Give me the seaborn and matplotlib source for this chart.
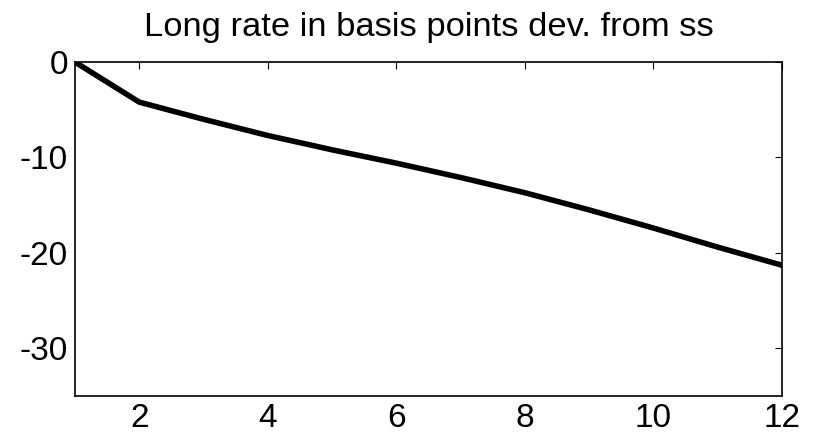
import matplotlib
matplotlib.use("Agg")
import matplotlib.pyplot as plt
import seaborn as sns
import pandas as pd

periods = [1, 2, 3, 4, 5, 6, 7, 8, 9, 10, 11, 12]
long_rate = [0.0, -4.2, -6.0, -7.7, -9.2, -10.6, -12.1, -13.7, -15.5, -17.4, -19.4, -21.3]
x_ticks = [2, 4, 6, 8, 10, 12]
y_ticks = [0, -10, -20, -30]
title = "Long rate in basis points dev. from ss"

sns.set_style("white")
plt.rcParams['font.family'] = ['Liberation Sans', 'DejaVu Sans']
plt.rcParams['axes.unicode_minus'] = False

df = pd.DataFrame({"period": periods, "value": long_rate})

fig = plt.figure(figsize=(8.15, 4.37), dpi=100)
ax = fig.add_axes([0.092, 0.094, 0.8675, 0.764])
sns.lineplot(data=df, x="period", y="value", ax=ax, color="black", linewidth=4)

ax.set_xlim(1, 12)
ax.set_ylim(-35, 0)
ax.set_xticks(x_ticks)
ax.set_yticks(y_ticks)
ax.set_xlabel("")
ax.set_ylabel("")
ax.set_title(title, fontsize=24.8, pad=18.5, color="black")
ax.tick_params(direction="in", length=5, width=0.8, top=True, right=True,
               labelsize=24, colors="black", pad=5)
for s in ax.spines.values():
    s.set_visible(True)
    s.set_color("black")
    s.set_linewidth(1.2)

fig.savefig("out.png", dpi=100)
